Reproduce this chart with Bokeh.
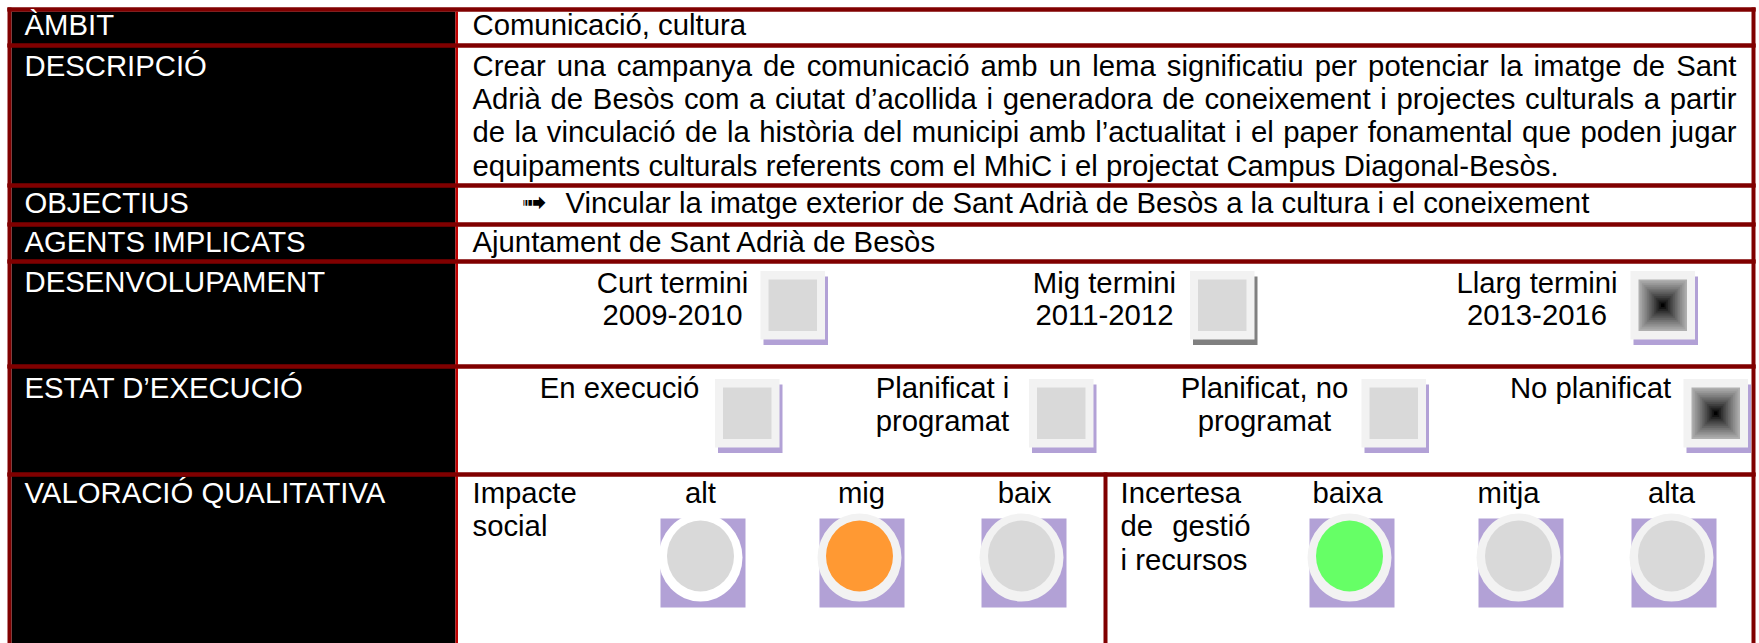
from bokeh.plotting import figure
from bokeh.models import Range1d
from bokeh.core.properties import value
from bokeh.embed import file_html
from bokeh.resources import INLINE

# ---------------- data ----------------
row_labels = ["ÀMBIT", "DESCRIPCIÓ", "OBJECTIUS", "AGENTS IMPLICATS",
              "DESENVOLUPAMENT", "ESTAT D’EXECUCIÓ", "VALORACIÓ QUALITATIVA"]
ambit_text = "Comunicació, cultura"
descripcio_lines = [
    "Crear una campanya de comunicació amb un lema significatiu per potenciar la imatge de Sant",
    "Adrià de Besòs com a ciutat d’acollida i generadora de coneixement i projectes culturals a partir",
    "de la vinculació de la història del municipi amb l’actualitat i el paper fonamental que poden jugar",
    "equipaments culturals referents com el MhiC i el projectat Campus Diagonal-Besòs.",
]
objectiu_bullet = "➟"
objectiu_text = "Vincular la imatge exterior de Sant Adrià de Besòs a la cultura i el coneixement"
agents_text = "Ajuntament de Sant Adrià de Besòs"
termini_names = ["Curt termini", "Mig termini", "Llarg termini"]
termini_years = ["2009-2010", "2011-2012", "2013-2016"]
termini_selected = [False, False, True]
estat_names = [["En execució"], ["Planificat i", "programat"],
               ["Planificat, no", "programat"], ["No planificat"]]
estat_selected = [False, False, False, True]
impacte_title = ["Impacte", "social"]
impacte_levels = ["alt", "mig", "baix"]
impacte_value = "mig"
incertesa_title = ["Incertesa", "de gestió", "i recursos"]
incertesa_levels = ["baixa", "mitja", "alta"]
incertesa_value = "baixa"

# ---------------- style / layout ----------------
FONT = "Liberation Sans"
FS = 29.3
FSS = "29.3px"
BORDER = "#800000"
DIVIDER = "#c00000"
PURPLE = "#b2a1d6"
LIGHT = "#f2f2f2"
GREY = "#d9d9d9"
ORANGE = "#ff9933"
GREEN = "#66ff66"
TEXT_DY = -10.0  # correction for text baseline placement

ARIAL = {' ': 278, ',': 278, '.': 278, '-': 333, '’': 222,
         'A': 667, 'B': 667, 'C': 722, 'D': 722, 'E': 667, 'F': 611, 'G': 778, 'H': 722,
         'I': 278, 'J': 500, 'K': 667, 'L': 556, 'M': 833, 'N': 722, 'O': 778, 'P': 667,
         'Q': 778, 'R': 722, 'S': 667, 'T': 611, 'U': 722, 'V': 667, 'W': 944, 'X': 667,
         'Y': 667, 'Z': 611,
         'a': 556, 'b': 556, 'c': 500, 'd': 556, 'e': 556, 'f': 278, 'g': 556, 'h': 556,
         'i': 222, 'j': 222, 'k': 500, 'l': 222, 'm': 833, 'n': 556, 'o': 556, 'p': 556,
         'q': 556, 'r': 333, 's': 500, 't': 278, 'u': 556, 'v': 500, 'w': 722, 'x': 500,
         'y': 500, 'z': 500, 'à': 556, 'è': 556, 'é': 556, 'ò': 556, 'ó': 556, 'í': 278,
         'ú': 556, 'ç': 500}


def tw(s):
    return sum(ARIAL.get(ch, 556) for ch in s) * FS / 1000.0


W, H = 1759, 643
p = figure(width=W, height=H, x_range=Range1d(0, W), y_range=Range1d(H, 0),
           output_backend="svg", toolbar_location=None, min_border=0,
           x_axis_type=None, y_axis_type=None, title=None)
p.grid.visible = False
p.outline_line_color = None
p.background_fill_color = "white"
p.border_fill_color = "white"


def draw_quads(items):
    if not items:
        return
    p.quad(left=[i[0] for i in items], right=[i[1] for i in items],
           top=[i[2] for i in items], bottom=[i[3] for i in items],
           fill_color=[i[4] for i in items], line_color=None)


texts = {}  # (color, align) -> list of (x, y, s)


def add_text(x, y, s, color="black", align="left"):
    texts.setdefault((color, align), []).append((x, y, s))


def justify(words_line, x0, x1, y):
    words = words_line.split(" ")
    widths = [tw(w) for w in words]
    gap = (x1 - x0 - sum(widths)) / (len(words) - 1)
    x = x0
    for w, wd in zip(words, widths):
        add_text(x, y, w)
        x += wd + gap


# black label column
draw_quads([(11, 455, 11, 643, "black")])

# ---- content column ----
LX, CX = 24, 472
label_base = [33.5, 74.5, 212, 251, 291, 397, 502]
for lab, yb in zip(row_labels, label_base):
    add_text(LX, yb, lab, color="white")

add_text(CX, label_base[0], ambit_text)
LH = 33.4
for k, line in enumerate(descripcio_lines):
    yb = label_base[1] + k * LH
    if k < len(descripcio_lines) - 1:
        justify(line, CX, 1736, yb)
    else:
        add_text(CX, yb, line)
add_text(565, label_base[2], objectiu_text)
add_text(CX, label_base[3], agents_text)

# ---- checkboxes ----
shadows, outers, inners, grads = [], [], [], []


def checkbox(x0, y0, selected, shadow_col=PURPLE, w=64.5, h=68.5):
    shadows.append((x0 + 3, x0 + w + 3, y0 + 5.5, y0 + h + 5.5, shadow_col))
    outers.append((x0, x0 + w, y0, y0 + h, LIGHT))
    ix0, ix1, iy0, iy1 = x0 + 8, x0 + w - 8, y0 + 8.5, y0 + h - 8.5
    if not selected:
        inners.append((ix0, ix1, iy0, iy1, GREY))
    else:
        cx, cy = (ix0 + ix1) / 2, (iy0 + iy1) / 2
        hw, hh = (ix1 - ix0) / 2, (iy1 - iy0) / 2
        n = 14
        for k in range(n):
            f = 1 - k / n
            g = int(175 * (1 - k / (n - 1)) ** 0.85)
            grads.append((cx - hw * f, cx + hw * f, cy - hh * f, cy + hh * f,
                          "#%02x%02x%02x" % (g, g, g)))


term_text_cx = [672, 1104, 1536.5]
term_box_x = [760, 1189.5, 1630]
for i, (nm, yr, sel) in enumerate(zip(termini_names, termini_years, termini_selected)):
    add_text(term_text_cx[i], 291.5, nm, align="center")
    add_text(term_text_cx[i], 291.5 + LH, yr, align="center")
    checkbox(term_box_x[i], 270.5, sel, shadow_col="#808080" if i == 1 else PURPLE)

estat_text_cx = [619, 942, 1264, 1590]
estat_box_x = [714.5, 1028.5, 1361, 1683]
for i, (lines, sel) in enumerate(zip(estat_names, estat_selected)):
    for k, ln in enumerate(lines):
        add_text(estat_text_cx[i], 397 + k * LH, ln, align="center")
    checkbox(estat_box_x[i], 378.5, sel)

draw_quads(shadows)
draw_quads(outers)
draw_quads(inners)
draw_quads(grads)

# ---- qualitative valuation ----
CY = 557
imp_cx = [700, 859, 1021]
imp_lx = [700, 861, 1024]
inc_cx = [1349, 1518, 1671]
inc_lx = [1347, 1508, 1671]
purple_sq, rings_x, rings_c, in_x, in_c = [], [], [], [], []
for levels, chosen, ccx, lcx, col in [(impacte_levels, impacte_value, imp_cx, imp_lx, ORANGE),
                                      (incertesa_levels, incertesa_value, inc_cx, inc_lx, GREEN)]:
    for lv, cx, lx in zip(levels, ccx, lcx):
        add_text(lx, 502, lv, align="center")
        purple_sq.append((cx - 40, cx + 45, CY - 39, CY + 50, PURPLE))
        rings_x.append(cx)
        rings_c.append("white" if lv == "alt" else LIGHT)
        in_x.append(cx)
        in_c.append(col if lv == chosen else GREY)
draw_quads(purple_sq)
p.ellipse(x=rings_x, y=[CY] * len(rings_x), width=84, height=88,
          fill_color=rings_c, line_color=None)
p.ellipse(x=in_x, y=[CY - 1.5] * len(in_x), width=67, height=71,
          fill_color=in_c, line_color=None)

for k, ln in enumerate(impacte_title):
    add_text(CX, 502 + k * LH, ln)
for k, ln in enumerate(incertesa_title):
    if k == 1:
        justify(ln, 1120, 1250, 502 + k * LH)
    else:
        add_text(1120, 502 + k * LH, ln)

# ---- borders ----
borders = []
for yt in [7, 43, 183, 222, 259, 364, 472]:
    borders.append((7, 1755, yt, yt + 4, BORDER))
borders.append((7, 11, 7, 643, BORDER))
borders.append((1751, 1755, 7, 643, BORDER))
borders.append((1103, 1107, 472, 643, BORDER))
draw_quads(borders)
draw_quads([(455, 457.5, 11, 643, DIVIDER)])
draw_quads([b for b in borders if b[1] - b[0] > 100])

# ---- texts ----
for (color, align), items in texts.items():
    p.text(x=[i[0] for i in items], y=[i[1] + TEXT_DY for i in items],
           text=[i[2] for i in items],
           text_font=value(FONT), text_font_size=value(FSS), text_color=color,
           text_align=align, text_baseline="alphabetic")

p.text(x=[521], y=[211 + TEXT_DY], text=[objectiu_bullet], text_font=value("DejaVu Sans"),
       text_font_size=value("30px"), text_color="black", text_align="left",
       text_baseline="alphabetic")

open("out.html", "w").write(file_html(p, INLINE))
